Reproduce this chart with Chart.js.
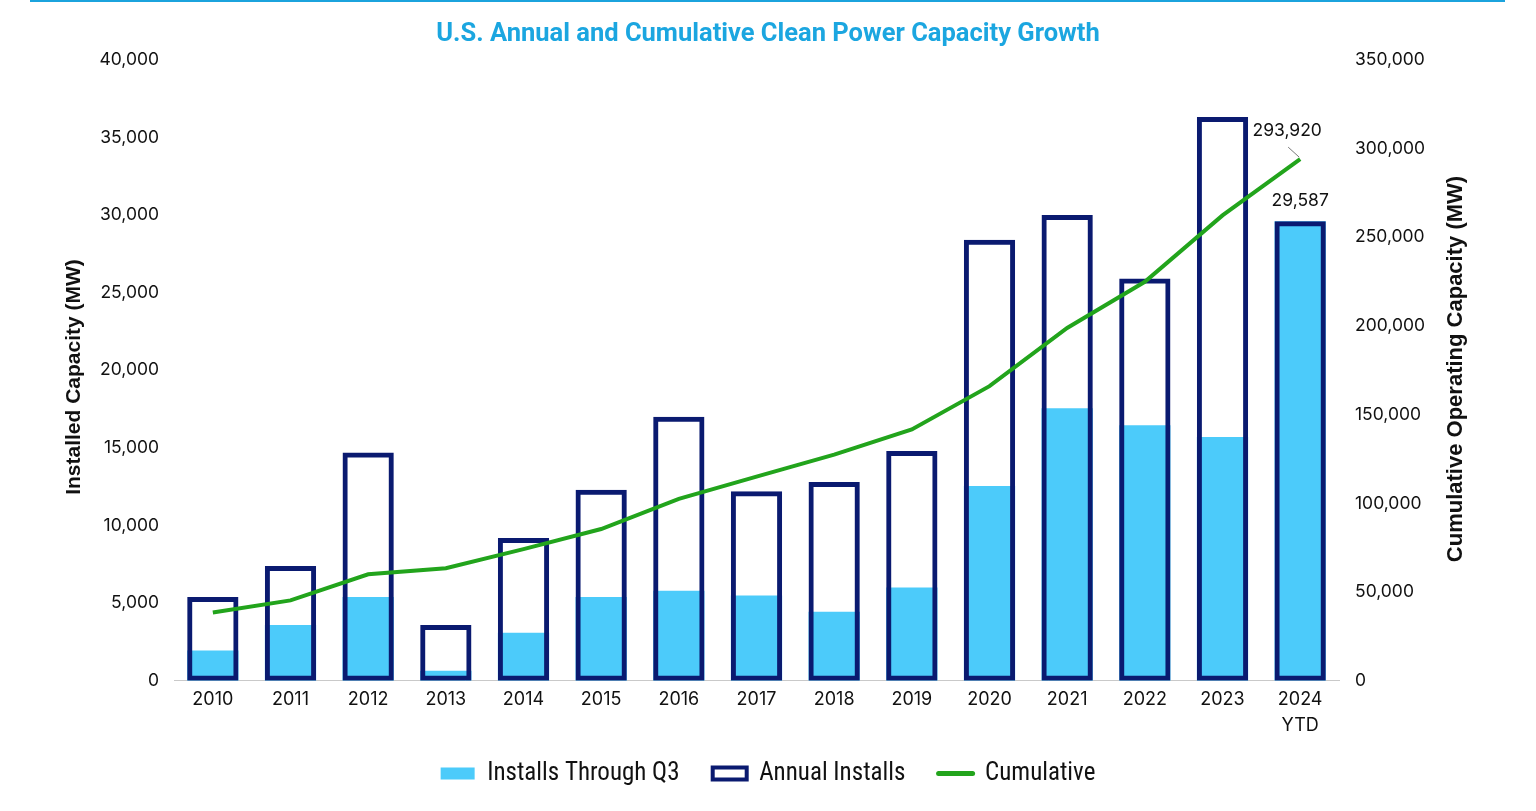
<!DOCTYPE html>
<html>
<head>
<meta charset="utf-8">
<script src="https://cdn.jsdelivr.net/npm/chart.js@4.4.1/dist/chart.umd.min.js"></script>
<style>
  html, body { margin: 0; padding: 0; background: #fff; }
  #wrap { position: relative; width: 1536px; height: 811px; }
  #topline { position: absolute; left: 30px; top: 0; width: 1475px; height: 2px; background: #1ba3dd; }
</style>
</head>
<body>
<div id="wrap">
  <div id="topline"></div>
  <canvas id="capacityChart" width="1536" height="811"></canvas>
</div>
<script>
const years = ['2010', '2011', '2012', '2013', '2014', '2015', '2016', '2017', '2018', '2019', '2020', '2021', '2022', '2023', ['2024', 'YTD']];
const throughQ3 = [1950, 3600, 5400, 650, 3100, 5400, 5800, 5500, 4450, 6000, 12550, 17550, 16450, 15700, 29587];
const annualInstalls = [5400, 7400, 14700, 3600, 9200, 12300, 17000, 12200, 12800, 14800, 28400, 30000, 25900, 36300, 29587];
const cumulative = [38500, 45300, 60000, 63400, 74200, 85500, 102500, 115000, 127400, 141600, 166000, 198800, 224800, 262200, 293920];

const tickFont = { family: 'Inter, "Liberation Sans", sans-serif', size: 17.5 };
const fmt = v => Number(v).toLocaleString('en-US');

// Axis titles drawn by hand so both read bottom-to-top
const axisTitles = {
  id: 'axisTitles',
  afterDraw(chart) {
    const { ctx } = chart;
    ctx.save();
    ctx.fillStyle = '#111';
    ctx.textAlign = 'center';
    ctx.textBaseline = 'middle';
    ctx.font = 'bold 21px "Liberation Sans", Arial, sans-serif';
    ctx.translate(74, 377);
    ctx.rotate(-Math.PI / 2);
    ctx.fillText('Installed Capacity (MW)', 0, 0);
    ctx.restore();
    ctx.save();
    ctx.fillStyle = '#111';
    ctx.textAlign = 'center';
    ctx.textBaseline = 'middle';
    ctx.font = 'bold 22px "Liberation Sans", Arial, sans-serif';
    ctx.translate(1456, 369);
    ctx.rotate(-Math.PI / 2);
    ctx.fillText('Cumulative Operating Capacity (MW)', 0, 0);
    ctx.restore();
  }
};

// Labels on the last point of the line and the last bar
const endLabels = {
  id: 'endLabels',
  afterDatasetsDraw(chart) {
    const { ctx, scales } = chart;
    const last = years.length - 1;
    const x = scales.x.getPixelForValue(last);
    const yLine = scales.y1.getPixelForValue(cumulative[last]);
    const yBar = scales.y.getPixelForValue(annualInstalls[last]);
    ctx.save();
    ctx.font = '17.5px Inter, "Liberation Sans", sans-serif';
    ctx.fillStyle = '#111';
    ctx.textAlign = 'center';
    ctx.textBaseline = 'middle';
    ctx.fillText(fmt(cumulative[last]), x - 13, yLine - 28);
    ctx.fillText(fmt(throughQ3[last]), x, yBar - 21);
    ctx.strokeStyle = '#777';
    ctx.lineWidth = 1;
    ctx.beginPath();
    ctx.moveTo(x - 12, yLine - 12);
    ctx.lineTo(x - 1, yLine - 2);
    ctx.stroke();
    ctx.restore();
  }
};

new Chart(document.getElementById('capacityChart'), {
  type: 'bar',
  data: {
    labels: years,
    datasets: [
      {
        label: 'Installs Through Q3',
        data: throughQ3,
        backgroundColor: '#4ccbfa',
        borderWidth: 0,
        grouped: false,
        order: 2,
        yAxisID: 'y'
      },
      {
        label: 'Annual Installs',
        data: annualInstalls,
        backgroundColor: 'rgba(0,0,0,0)',
        borderColor: '#0a1a70',
        borderWidth: 5,
        borderSkipped: false,
        grouped: false,
        order: 1,
        yAxisID: 'y'
      },
      {
        type: 'line',
        label: 'Cumulative',
        data: cumulative,
        borderColor: '#22a41c',
        backgroundColor: '#22a41c',
        borderWidth: 4,
        pointRadius: 0,
        tension: 0,
        order: 0,
        yAxisID: 'y1'
      }
    ]
  },
  options: {
    responsive: false,
    animation: false,
    layout: { padding: { top: 0, bottom: 15, left: 0, right: 0 } },
    datasets: { bar: { categoryPercentage: 1, barPercentage: 0.66 } },
    plugins: {
      tooltip: { enabled: false },
      title: {
        display: true,
        text: 'U.S. Annual and Cumulative Clean Power Capacity Growth',
        color: '#1ba6e0',
        font: { family: 'Roboto, "Liberation Sans", sans-serif', size: 25.5, weight: 'bold' },
        padding: { top: 19, bottom: 10 }
      },
      legend: {
        position: 'bottom',
        labels: {
          color: '#111',
          font: { family: '"Liberation Sans Narrow", "Roboto Condensed", "Liberation Sans", sans-serif', size: 25 },
          usePointStyle: true,
          pointStyleWidth: 34,
          boxHeight: 12,
          padding: 16,
          sort: (a, b) => a.datasetIndex - b.datasetIndex,
          generateLabels(chart) {
            const items = Chart.defaults.plugins.legend.labels.generateLabels(chart);
            items.forEach(item => {
              if (item.datasetIndex === 0) { item.pointStyle = 'rect'; item.lineWidth = 0; item.strokeStyle = '#4ccbfa'; item.text += '   '; }
              if (item.datasetIndex === 1) { item.pointStyle = 'rect'; item.fillStyle = '#fff'; item.lineWidth = 4; item.text += '   '; }
              if (item.datasetIndex === 2) { item.pointStyle = 'line'; item.lineWidth = 5; item.lineCap = 'round'; }
            });
            return items;
          }
        }
      }
    },
    scales: {
      x: {
        grid: { display: false, drawTicks: false },
        border: { display: true, color: '#c9c9c9', width: 1 },
        ticks: { color: '#111', font: { ...tickFont, size: 18, lineHeight: 1.45 }, padding: 6, maxRotation: 0 }
      },
      y: {
        position: 'left',
        min: 0,
        max: 40000,
        grid: { display: false, drawTicks: false },
        border: { display: false },
        ticks: { stepSize: 5000, color: '#111', font: tickFont, padding: 15, callback: fmt },
        afterFit(scale) { scale.width = 174; }
      },
      y1: {
        position: 'right',
        min: 0,
        max: 350000,
        grid: { display: false, drawTicks: false },
        border: { display: false },
        ticks: { stepSize: 50000, color: '#111', font: tickFont, padding: 16, callback: fmt },
        afterFit(scale) { scale.width = 197; }
      }
    }
  },
  plugins: [endLabels, axisTitles]
});
</script>
</body>
</html>
